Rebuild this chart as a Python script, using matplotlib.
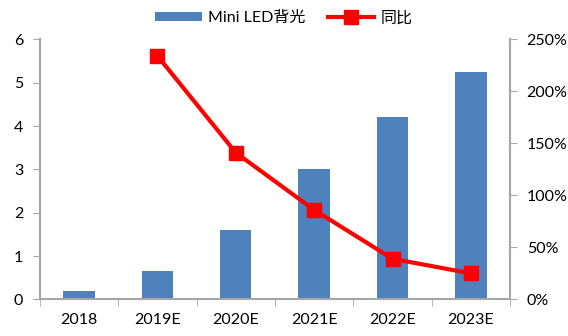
import numpy as np
import matplotlib
matplotlib.use('Agg')
from matplotlib import pyplot as plt
from matplotlib.ticker import FuncFormatter, FixedLocator

plt.rcParams['font.family'] = ['Lato', 'Noto Sans CJK SC', 'DejaVu Sans']

# Data
years = ['2018', '2019E', '2020E', '2021E', '2022E', '2023E']
backlight = [0.2, 0.65, 1.6, 3.0, 4.2, 5.25]
yoy = [np.nan, 2.34, 1.41, 0.86, 0.39, 0.25]

grey = '#a6a6a6'
fig = plt.figure(figsize=(5.68, 3.36), dpi=100)
ax = fig.add_axes([0.0704, 0.109, 0.8275, 0.774])
ax2 = ax.twinx()

x = np.arange(len(years))
ax.bar(x, backlight, width=0.4, color='#4f81bd', label='Mini LED背光', zorder=2)
ax2.plot(x, yoy, color='#ff0000', lw=3, marker='s', markersize=10, label='同比', zorder=3)

ax.set_xlim(-0.5, len(years) - 0.5)
ax.set_ylim(0, 6)
ax2.set_ylim(0, 2.5)
ax.set_yticks(range(7))
ax2.set_yticks(np.arange(0, 2.51, 0.5))
ax2.yaxis.set_major_formatter(FuncFormatter(lambda v, _: f'{v*100:.0f}%'))

ax.set_xticks(x)
ax.set_xticklabels(years)
ax.xaxis.set_minor_locator(FixedLocator(np.arange(-0.5, len(years), 1)))
ax.tick_params(axis='x', which='major', length=0, pad=10)
ax.tick_params(axis='x', which='minor', length=5, color=grey, direction='out')

for a in (ax, ax2):
    for s in a.spines.values():
        s.set_visible(False)
    a.tick_params(axis='y', length=5, color=grey, labelsize=11.5, pad=7)
ax.tick_params(axis='x', labelsize=11.5)
ax.spines['left'].set_visible(True)
ax.spines['bottom'].set_visible(True)
ax2.spines['right'].set_visible(True)
for s in (ax.spines['left'], ax.spines['bottom'], ax2.spines['right']):
    s.set_color(grey)
    s.set_linewidth(1.5)

h1, l1 = ax.get_legend_handles_labels()
h2, l2 = ax2.get_legend_handles_labels()
fig.legend(h1 + h2, l1 + l2, loc='upper center', bbox_to_anchor=(0.5, 1.01), ncol=2,
           frameon=False, fontsize=11.5, handlelength=2.9, handleheight=0.5,
           handletextpad=0.4, columnspacing=1.4)

fig.savefig('out.png', dpi=100)
